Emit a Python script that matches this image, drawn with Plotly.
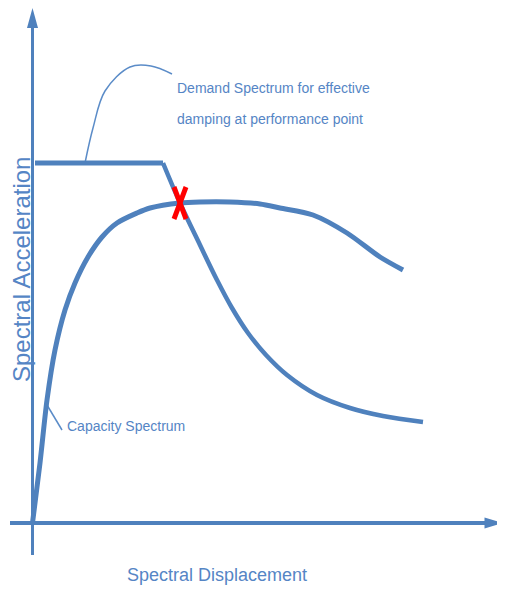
import plotly.graph_objects as go

# ---- data (arbitrary units: displacement, acceleration) ----
demand_plateau_d = [2.5, 130.5]
demand_plateau_a = [360, 360]
demand_fall_d = [130.5, 147.5, 167.5, 184.5, 199.5, 215.5, 233.5, 254.5, 284.5, 317.5, 350.5, 390.5]
demand_fall_a = [360, 320, 278, 243, 215, 190, 168, 148, 128, 115, 107, 101]

capacity_d = [0, 7.5, 14.5, 22.5, 32.5, 42.5, 55.5, 69.5, 84.5, 104.5, 117.5, 147.5,
              167.5, 197.5, 227.5, 247.5, 280.5, 314.5, 347.5, 370.5]
capacity_a = [0, 60, 123, 173, 213, 240, 266, 286, 300, 310, 315, 320,
              321, 321, 319, 315, 308, 290, 266, 253]

perf_point = (147.5, 320)

demand_leader_d = [52.5, 60.5, 72.5, 97.5, 118.5, 139.5]
demand_leader_a = [360, 395, 432, 456, 457, 449]
capacity_leader_d = [14.5, 29.5]
capacity_leader_a = [118, 93]

label_demand_1 = "Demand Spectrum for effective"
label_demand_2 = "damping at performance point"
label_capacity = "Capacity Spectrum"
label_x = "Spectral Displacement"
label_y = "Spectral Acceleration"

BLUE = "#4f81bd"
LEADER = "#5b8cc8"
TXT = "#5585c5"
FONT = "Liberation Sans, Arial, sans-serif"

fig = go.Figure()

# leaders
fig.add_trace(go.Scatter(x=demand_leader_d, y=demand_leader_a, mode="lines",
                         line=dict(color=LEADER, width=1.5, shape="spline", smoothing=1.0),
                         hoverinfo="skip"))
fig.add_trace(go.Scatter(x=capacity_leader_d, y=capacity_leader_a, mode="lines",
                         line=dict(color=LEADER, width=1.5), hoverinfo="skip"))

# demand spectrum
fig.add_trace(go.Scatter(x=demand_plateau_d, y=demand_plateau_a, mode="lines",
                         line=dict(color=BLUE, width=5), name="Demand Spectrum"))
fig.add_trace(go.Scatter(x=demand_fall_d, y=demand_fall_a, mode="lines",
                         line=dict(color=BLUE, width=4.5, shape="spline", smoothing=1.0),
                         name="Demand Spectrum"))
# capacity spectrum
fig.add_trace(go.Scatter(x=capacity_d, y=capacity_a, mode="lines",
                         line=dict(color=BLUE, width=5, shape="spline", smoothing=0.8),
                         name="Capacity Spectrum"))

# performance point cross
px_, py_ = perf_point
dx, dy = 6, 16
fig.add_trace(go.Scatter(x=[px_ - dx, px_ + dx, None, px_ + dx, px_ - dx],
                         y=[py_ + dy, py_ - dy, None, py_ + dy, py_ - dy],
                         mode="lines", line=dict(color="#ff0000", width=5), hoverinfo="skip"))

# axes lines and arrowheads
shapes = [
    dict(type="line", x0=0, x1=0, y0=-32, y1=497, line=dict(color=BLUE, width=3)),
    dict(type="line", x0=-22.5, x1=455, y0=0, y1=0, line=dict(color=BLUE, width=4)),
    dict(type="path", path="M -5.5 495 L 5.5 495 L 0 515 Z", fillcolor=BLUE, line=dict(width=0)),
    dict(type="path", path="M 452 -5.5 L 452 5.5 L 470.5 0 Z", fillcolor=BLUE, line=dict(width=0)),
]

annotations = [
    dict(x=142.5, y=435, text=label_demand_1, xanchor="left", yanchor="middle", showarrow=False,
         font=dict(family=FONT, size=14, color=TXT)),
    dict(x=142.5, y=404, text=label_demand_2, xanchor="left", yanchor="middle", showarrow=False,
         font=dict(family=FONT, size=14, color=TXT)),
    dict(x=32.5, y=97, text=label_capacity, xanchor="left", yanchor="middle", showarrow=False,
         font=dict(family=FONT, size=14, color=TXT)),
    dict(x=184.5, y=-52, text=label_x, xanchor="center", yanchor="middle", showarrow=False,
         font=dict(family=FONT, size=18, color=TXT)),
    dict(x=-11.5, y=253, text=label_y, xanchor="center", yanchor="middle", showarrow=False,
         textangle=-90, borderpad=0, font=dict(family=FONT, size=24, color=TXT)),
]

fig.update_layout(
    width=505, height=595,
    margin=dict(l=0, r=0, t=0, b=0),
    paper_bgcolor="white", plot_bgcolor="white",
    showlegend=False,
    xaxis=dict(range=[-24.5, 480.5], visible=False, fixedrange=True),
    yaxis=dict(range=[-80, 515], visible=False, fixedrange=True),
    shapes=shapes, annotations=annotations,
)

fig.write_html("out.html")
